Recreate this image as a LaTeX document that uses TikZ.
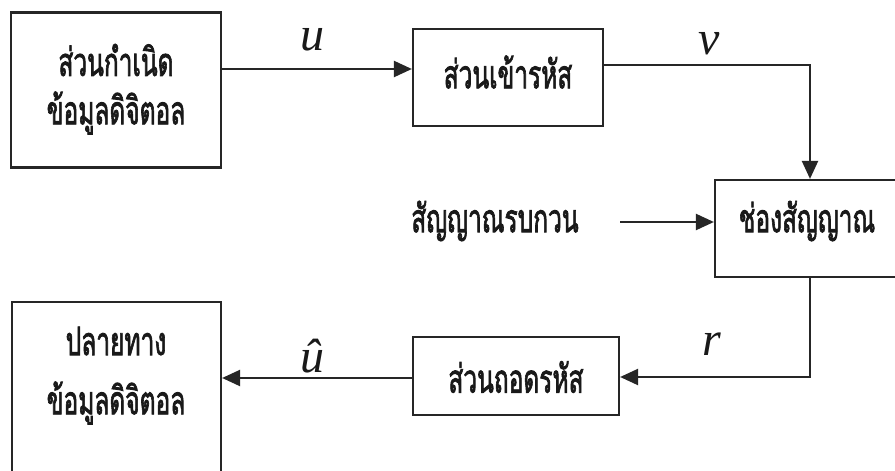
\documentclass[tikz,border=0pt]{standalone}
\usepackage{fontspec}
\usepackage{graphicx}
\newfontfamily\thai[Script=Thai, FakeBold=2.4]{Loma}
\newfontfamily\tms{Liberation Serif}
\newcommand{\tht}[1]{\scalebox{1}[1.6]{#1}}
\usetikzlibrary{arrows.meta}
\tikzset{
  blk/.style={draw=black!85, line width=2.2pt, inner sep=0pt, align=center},
  th/.style={font=\thai\fontsize{24.5}{30}\selectfont, inner sep=0pt, text=black!90},
  sym/.style={font=\tms\itshape\fontsize{48}{48}\selectfont, inner sep=0pt, text=black!90},
  con/.style={line width=2.2pt, draw=black!85, -{Triangle[length=18pt,width=16pt]}},
}
\begin{document}
\begin{tikzpicture}[x=1pt,y=-1pt]
\useasboundingbox (0,0) rectangle (895,471);
\clip (0,0) rectangle (895,471);
\fill[white] (0,0) rectangle (895,471);
% boxes
\node[blk, minimum width=210pt, minimum height=155pt] (src) at (116,90) {};
\node[th] (srcA) at (116,60) {\tht{ส่วนกำเนิด}};
\node[th] (srcB) at (116,113) {\tht{ข้อมูลดิจิตอล}};
\node[blk, minimum width=190pt, minimum height=97pt] (enc) at (508,77.5) {};
\node[th] (encT) at (508,72) {\tht{ส่วนเข้ารหัส}};
\node[blk, minimum width=190pt, minimum height=97pt] (ch) at (810,228.5) {};
\node[th] (chT) at (807,221) {\tht{ช่องสัญญาณ}};
\node[th] (noise) at (495,221) {\tht{สัญญาณรบกวน}};
\node[blk, minimum width=206pt, minimum height=78pt] (dec) at (516,376) {};
\node[th] (decT) at (516,377) {\tht{ส่วนถอดรหัส}};
\node[blk, minimum width=209pt, minimum height=190pt] (dst) at (116.5,397) {};
\node[th] (dstA) at (116,341) {\tht{ปลายทาง}};
\node[th] (dstB) at (116,403) {\tht{ข้อมูลดิจิตอล}};
% coordinates
\coordinate (vTurn) at (810,65);
\coordinate (rTurn) at (810,377);
\coordinate (nEnd) at (620,222);
% connectors
\draw[con] (src.east |- 0,69) -- (enc.west |- 0,69);
\draw[con] (enc.east |- vTurn) -- (vTurn) -- (ch.north);
\draw[con] (nEnd) -- (ch.west |- nEnd);
\draw[con] (ch.south) -- (rTurn) -- (dec.east |- rTurn);
\draw[con] (dec.west |- 0,378) -- (dst.east |- 0,378);
% labels
\node[sym] (uL) at (312,40) {u};
\node[sym] (vL) at (709,44) {v};
\node[sym] (rL) at (712,344) {r};
\node[sym] (uhL) at (312,356) {\^u};
\end{tikzpicture}
\end{document}
